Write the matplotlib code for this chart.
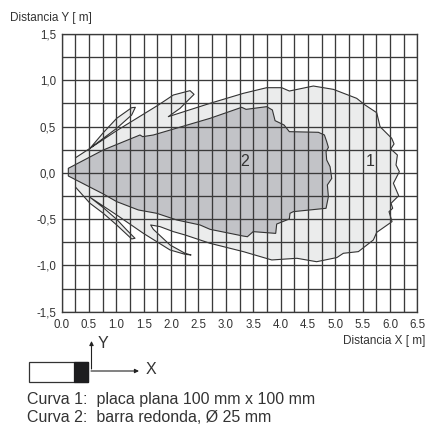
import matplotlib
matplotlib.use('Agg')
import matplotlib.pyplot as plt
from matplotlib.patches import Rectangle

plt.rcParams['font.family'] = ['Liberation Sans', 'DejaVu Sans']

W = 426
H = 425

x_ticks = [0.0, 0.5, 1.0, 1.5, 2.0, 2.5, 3.0, 3.5, 4.0, 4.5, 5.0, 5.5, 6.0, 6.5]
x_labels = ['0.0', '0.5', '1.0', '1.5', '2.0', '2.5', '3.0', '3.5', '4.0', '4.5', '5.0', '5.5', '6.0', '6.5']
y_ticks = [-1.5, -1.0, -0.5, 0.0, 0.5, 1.0, 1.5]
y_labels = ['-1,5', '-1,0', '-0,5', '0,0', '0,5', '1,0', '1,5']
minor_x = [0.25 * i for i in range(27)]
minor_y = [-1.5 + 0.25 * i for i in range(13)]

# curve 1, flat plate, clockwise from the upper thin lobe
curve1_x = [0.255, 0.517, 0.76, 1.005, 1.279, 1.346, 1.279, 1.005, 0.76, 0.517,
            1.005, 1.767, 2.041, 2.346, 2.419, 2.163, 1.949, 2.711, 3.32, 3.747,
            4.021, 4.161, 4.6, 4.966, 5.392, 5.545, 5.758, 5.819, 6.032, 6.075,
            6.014, 6.136, 6.111, 6.172, 6.063, 6.16, 6.02, 6.05, 5.983, 6.038,
            5.758, 5.697, 5.423, 5.148, 5.03, 4.66, 4.3, 3.84, 3.32, 2.711,
            2.528, 2.254, 2.041, 1.797, 1.626, 1.675, 1.98, 2.254, 2.364, 2.254,
            1.98, 1.492, 1.005, 0.517, 0.76, 1.005, 1.188, 1.34, 1.279, 1.005,
            0.76, 0.517, 0.255]
curve1_y = [0.164, 0.265, 0.434, 0.589, 0.704, 0.708, 0.625, 0.481, 0.373, 0.265,
            0.456, 0.733, 0.841, 0.888, 0.848, 0.697, 0.607, 0.751, 0.859, 0.92,
            0.92, 0.884, 0.938, 0.902, 0.805, 0.733, 0.65, 0.499, 0.373, 0.312,
            0.258, 0.193, 0.085, 0.013, -0.113, -0.247, -0.329, -0.383, -0.419, -0.527,
            -0.643, -0.725, -0.851, -0.869, -0.915, -0.96, -0.923, -0.941, -0.851, -0.761,
            -0.725, -0.671, -0.635, -0.581, -0.563, -0.61, -0.779, -0.869, -0.887, -0.88,
            -0.833, -0.653, -0.455, -0.264, -0.376, -0.502, -0.617, -0.707, -0.714, -0.563,
            -0.437, -0.329, -0.156]

# curve 2, round bar
curve2_x = [0.121, 0.76, 1.431, 1.48, 1.675, 2.711, 3.29, 3.37, 3.747, 3.851,
            3.9, 4.064, 4.161, 4.692, 4.802, 4.844, 4.875, 4.832, 4.844, 4.905,
            4.936, 4.856, 4.875, 4.832, 4.234, 4.173, 4.161, 3.93, 3.912, 3.5,
            3.394, 3.32, 2.711, 2.528, 2.102, 1.736, 1.401, 1.005, 0.76, 0.121]
curve2_y = [0.049, 0.247, 0.409, 0.391, 0.409, 0.589, 0.708, 0.686, 0.715, 0.679,
            0.564, 0.517, 0.445, 0.438, 0.409, 0.337, 0.275, 0.229, 0.139, 0.067,
            -0.06, -0.131, -0.257, -0.383, -0.419, -0.437, -0.498, -0.553, -0.654, -0.635,
            -0.69, -0.683, -0.61, -0.563, -0.509, -0.437, -0.401, -0.311, -0.228, -0.034]


def fx(px):
    return px / W


def fy(py):
    return 1 - py / H


fig = plt.figure(figsize=(W / 100, H / 100), dpi=100)
ax = fig.add_axes([fx(61.7), fy(311.7), (417.3 - 61.7) / W, (311.7 - 34) / H])

ax.fill(curve1_x, curve1_y, color='#ebecec', lw=0, zorder=1)
ax.plot(curve1_x, curve1_y, color='#333333', lw=0.8, zorder=2)
ax.fill(curve2_x, curve2_y, facecolor='#c2c3c7', edgecolor='#333333', lw=0.8, zorder=3)

ax.set_xlim(0, 6.5)
ax.set_ylim(-1.5, 1.5)
ax.set_xticks(x_ticks)
ax.set_xticklabels(x_labels)
ax.set_yticks(y_ticks)
ax.set_yticklabels(y_labels)
ax.tick_params(length=0, labelsize=8.3, labelcolor='#333333')
ax.tick_params(axis='x', pad=5)
ax.tick_params(axis='y', pad=4)
# grid sits on top of the filled areas
ax.vlines(minor_x, -1.5, 1.5, color='#3a3a3a', lw=0.95, zorder=4)
ax.hlines(minor_y, 0, 6.5, color='#3a3a3a', lw=0.95, zorder=4)
for s in ax.spines.values():
    s.set_color('#3a3a3a')
    s.set_linewidth(0.95)

ax.text(5.64, 0.12, '1', fontsize=11.5, color='#333333', ha='center', va='center', zorder=5)
ax.text(3.35, 0.12, '2', fontsize=11.5, color='#333333', ha='center', va='center', zorder=5)

fig.text(fx(10), fy(18), 'Distancia Y [ m]', fontsize=8.5, color='#333333', va='center')
fig.text(fx(425), fy(341), 'Distancia X [ m]', fontsize=8.5, color='#333333', va='center', ha='right')

# sensor sketch under the chart
fig.add_artist(Rectangle((fx(29), fy(382)), 59 / W, 20 / H, transform=fig.transFigure,
                         facecolor='white', edgecolor='#333333', lw=0.9))
fig.add_artist(Rectangle((fx(74), fy(382)), 14 / W, 20 / H, transform=fig.transFigure,
                         facecolor='#1d1d1f', edgecolor='#1d1d1f', lw=0.9))
arrow = dict(arrowstyle='-|>', color='#222222', lw=0.8, mutation_scale=6, shrinkA=0, shrinkB=0)
fig.add_artist(plt.Annotation('', xy=(fx(91.5), fy(341)), xytext=(fx(91.5), fy(369)),
                              xycoords='figure fraction', textcoords='figure fraction', arrowprops=arrow))
fig.add_artist(plt.Annotation('', xy=(fx(139), fy(371)), xytext=(fx(91), fy(371)),
                              xycoords='figure fraction', textcoords='figure fraction', arrowprops=arrow))
fig.text(fx(98), fy(344), 'Y', fontsize=11.5, color='#333333', va='center')
fig.text(fx(146), fy(369), 'X', fontsize=11.5, color='#333333', va='center')

fig.text(fx(27), fy(404), 'Curva 1:  placa plana 100 mm x 100 mm', fontsize=11.5, color='#333333', va='baseline')
fig.text(fx(27), fy(422.5), 'Curva 2:  barra redonda, Ø 25 mm', fontsize=11.5, color='#333333', va='baseline')

fig.savefig('out.png', dpi=100)
